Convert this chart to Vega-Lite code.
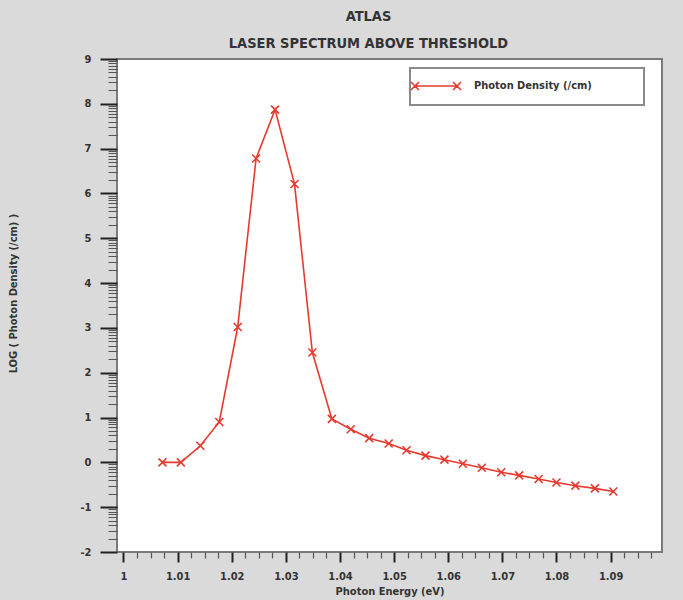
{
  "$schema": "https://vega.github.io/schema/vega-lite/v6.json",
  "width": 545,
  "height": 493,
  "autosize": {"type": "none"},
  "padding": {"left": 117, "top": 59, "right": 21, "bottom": 48},
  "background": "#dadada",
  "config": {
    "view": {"fill": "white", "stroke": "#7a7a7a", "strokeWidth": 2},
    "font": "Liberation Sans Narrow, DejaVu Sans Condensed, sans-serif",
    "legend": {"strokeWidth": 2}
  },
  "title": {
    "text": "ATLAS",
    "subtitle": "LASER SPECTRUM ABOVE THRESHOLD",
    "font": "Liberation Sans Narrow, DejaVu Sans Condensed, sans-serif",
    "subtitleFont": "Liberation Sans Narrow, DejaVu Sans Condensed, sans-serif",
    "fontSize": 14.5,
    "subtitleFontSize": 14.5,
    "fontWeight": "bold",
    "subtitleFontWeight": "bold",
    "color": "#333333",
    "subtitleColor": "#333333",
    "anchor": "middle",
    "frame": "group",
    "dx": -21,
    "offset": 2,
    "subtitlePadding": 12
  },
  "data": {
    "values": [
      {"energy": 1.0072, "logDensity": 0.0},
      {"energy": 1.0106, "logDensity": 0.0},
      {"energy": 1.0142, "logDensity": 0.37},
      {"energy": 1.0177, "logDensity": 0.9},
      {"energy": 1.0211, "logDensity": 3.02},
      {"energy": 1.0245, "logDensity": 6.78},
      {"energy": 1.028, "logDensity": 7.87},
      {"energy": 1.0316, "logDensity": 6.21},
      {"energy": 1.0349, "logDensity": 2.45},
      {"energy": 1.0385, "logDensity": 0.97},
      {"energy": 1.042, "logDensity": 0.74},
      {"energy": 1.0454, "logDensity": 0.54},
      {"energy": 1.049, "logDensity": 0.42},
      {"energy": 1.0523, "logDensity": 0.27},
      {"energy": 1.0558, "logDensity": 0.15},
      {"energy": 1.0593, "logDensity": 0.06},
      {"energy": 1.0627, "logDensity": -0.03},
      {"energy": 1.0662, "logDensity": -0.12},
      {"energy": 1.0698, "logDensity": -0.22},
      {"energy": 1.0731, "logDensity": -0.29},
      {"energy": 1.0767, "logDensity": -0.37},
      {"energy": 1.08, "logDensity": -0.45},
      {"energy": 1.0835, "logDensity": -0.52},
      {"energy": 1.0871, "logDensity": -0.58},
      {"energy": 1.0905, "logDensity": -0.65}
    ]
  },
  "encoding": {
    "color": {
      "datum": "Photon Density (/cm)",
      "type": "nominal",
      "scale": {"range": ["#e53a2f"]},
      "legend": {
        "orient": "none",
        "legendX": 293,
        "legendY": 9,
        "title": null,
        "padding": 11,
        "fillColor": "white",
        "strokeColor": "#8a8a8a",
        "symbolType": "M-3.5,0L3.5,0M-4.167,-0.667L-2.833,0.667M-4.167,0.667L-2.833,-0.667M2.833,-0.667L4.167,0.667M2.833,0.667L4.167,-0.667M32.3,0",
        "symbolSize": 144,
        "symbolStrokeWidth": 1.6,
        "symbolStrokeColor": "#e53a2f",
        "symbolFillColor": "transparent",
        "symbolOffset": 8,
        "labelOffset": 31,
        "labelFont": "Liberation Sans Narrow, DejaVu Sans Condensed, sans-serif",
        "labelFontSize": 11,
        "labelFontWeight": "bold",
        "labelColor": "#333333",
        "labelLimit": 400
      }
    }
  },
  "layer": [
    {
      "mark": {"type": "line", "strokeWidth": 1.6},
      "encoding": {
        "x": {
          "field": "energy",
          "type": "quantitative",
          "scale": {"domain": [0.9988, 1.0995], "nice": false, "zero": false},
          "axis": {
            "orient": "bottom",
            "title": "Photon Energy (eV)",
            "titleFont": "Liberation Sans Narrow, DejaVu Sans Condensed, sans-serif",
            "titleFontSize": 11,
            "titleFontWeight": "bold",
            "titleColor": "#333333",
            "titleX": 272.5,
            "titleY": 39,
            "titleAlign": "center",
            "titleBaseline": "middle",
            "domain": false,
            "grid": false,
            "values": [1, 1.01, 1.02, 1.03, 1.04, 1.05, 1.06, 1.07, 1.08, 1.09],
            "format": ".2~f",
            "tickSize": 10,
            "tickWidth": 2,
            "tickColor": "#222222",
            "labelFont": "Liberation Sans Narrow, DejaVu Sans Condensed, sans-serif",
            "labelFontSize": 11,
            "labelFontWeight": "bold",
            "labelColor": "#333333",
            "labelPadding": 8,
            "labelFlush": false,
            "labelOverlap": false
          }
        },
        "y": {
          "field": "logDensity",
          "type": "quantitative",
          "scale": {"domain": [-2, 9], "nice": false, "zero": false},
          "axis": {
            "orient": "left",
            "title": "LOG ( Photon Density (/cm) )",
            "titleFont": "Liberation Sans Narrow, DejaVu Sans Condensed, sans-serif",
            "titleFontSize": 11,
            "titleFontWeight": "bold",
            "titleColor": "#333333",
            "titleAngle": -90,
            "titleX": -103.5,
            "titleY": 234,
            "titleAlign": "center",
            "titleBaseline": "middle",
            "domain": false,
            "grid": false,
            "values": [-2, -1, 0, 1, 2, 3, 4, 5, 6, 7, 8, 9],
            "labelExpr": "replace(datum.label, '\u2212', '-')",
            "tickSize": 17,
            "tickWidth": 2,
            "tickColor": "#222222",
            "labelFont": "Liberation Sans Narrow, DejaVu Sans Condensed, sans-serif",
            "labelFontSize": 11,
            "labelFontWeight": "bold",
            "labelColor": "#333333",
            "labelPadding": 9,
            "labelFlush": false,
            "labelOverlap": false
          }
        }
      }
    },
    {
      "mark": {"type": "point", "shape": "M-1,-1L1,1M-1,1L1,-1", "filled": false, "size": 64, "strokeWidth": 1.6, "opacity": 1},
      "encoding": {
        "x": {
          "field": "energy",
          "type": "quantitative",
          "axis": {
            "orient": "bottom",
            "title": null,
            "labels": false,
            "domain": false,
            "grid": false,
            "values": [1.0025, 1.005, 1.0075, 1.0125, 1.015, 1.0175, 1.0225, 1.025, 1.0275, 1.0325, 1.035, 1.0375, 1.0425, 1.045, 1.0475, 1.0525, 1.055, 1.0575, 1.0625, 1.065, 1.0675, 1.0725, 1.075, 1.0775, 1.0825, 1.085, 1.0875, 1.0925, 1.095, 1.0975],
            "tickSize": 6,
            "tickWidth": 1.2,
            "tickColor": "#555555"
          }
        },
        "y": {
          "field": "logDensity",
          "type": "quantitative",
          "axis": {
            "orient": "left",
            "title": null,
            "labels": false,
            "domain": false,
            "grid": false,
            "values": [-1.699, -1.523, -1.398, -1.301, -1.222, -1.155, -1.097, -1.046, -0.699, -0.523, -0.398, -0.301, -0.222, -0.155, -0.097, -0.046, 0.301, 0.477, 0.602, 0.699, 0.778, 0.845, 0.903, 0.954, 1.301, 1.477, 1.602, 1.699, 1.778, 1.845, 1.903, 1.954, 2.301, 2.477, 2.602, 2.699, 2.778, 2.845, 2.903, 2.954, 3.301, 3.477, 3.602, 3.699, 3.778, 3.845, 3.903, 3.954, 4.301, 4.477, 4.602, 4.699, 4.778, 4.845, 4.903, 4.954, 5.301, 5.477, 5.602, 5.699, 5.778, 5.845, 5.903, 5.954, 6.301, 6.477, 6.602, 6.699, 6.778, 6.845, 6.903, 6.954, 7.301, 7.477, 7.602, 7.699, 7.778, 7.845, 7.903, 7.954, 8.301, 8.477, 8.602, 8.699, 8.778, 8.845, 8.903, 8.954],
            "tickSize": 9,
            "tickWidth": 1,
            "tickColor": "#555555"
          }
        }
      }
    }
  ],
  "resolve": {"axis": {"x": "independent", "y": "independent"}}
}
